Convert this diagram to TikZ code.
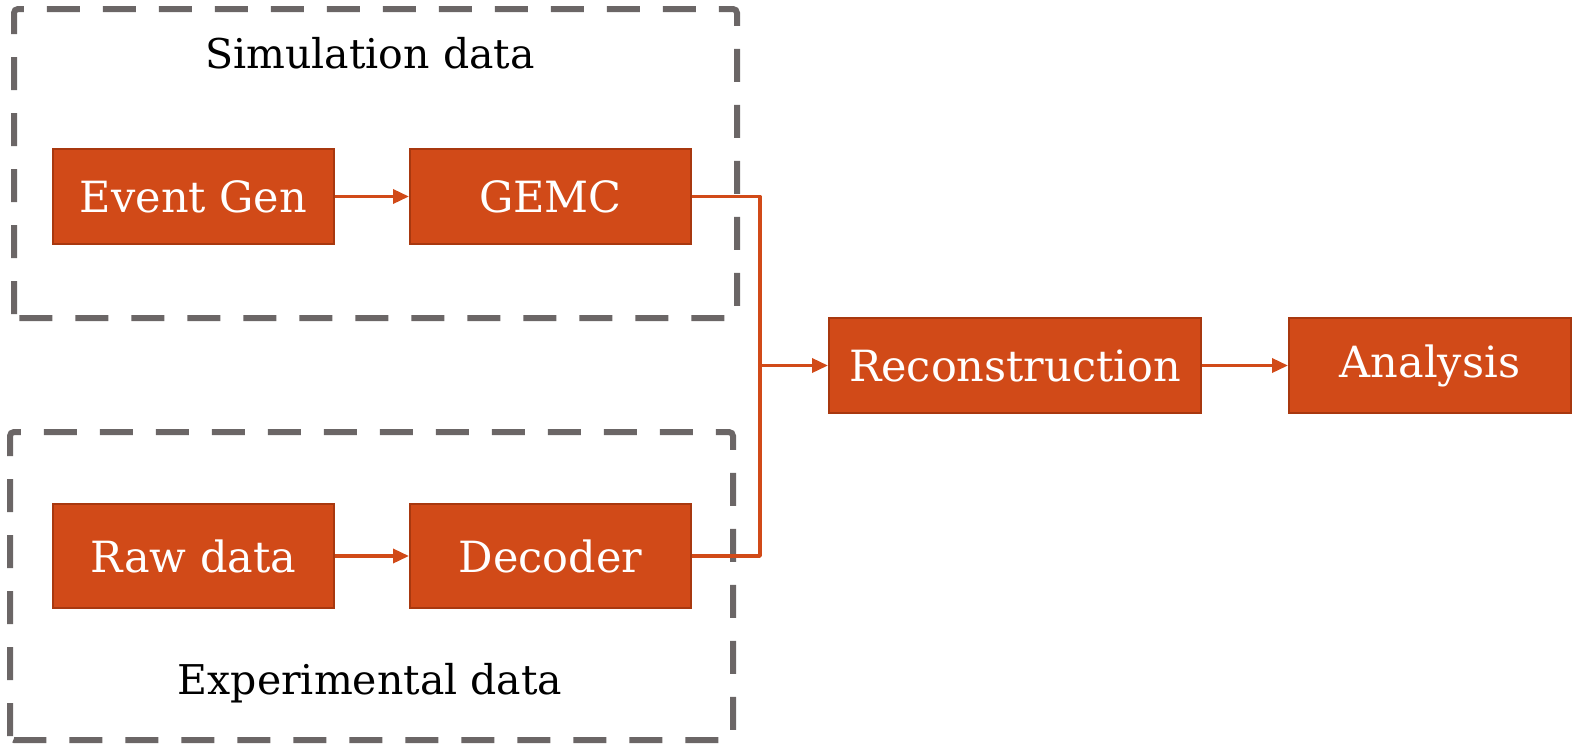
\documentclass[tikz,border=0pt]{standalone}
\usepackage{fontspec}
\setmainfont{DejaVu Serif}
\usetikzlibrary{arrows.meta}
\definecolor{boxfill}{HTML}{D14A18}
\definecolor{boxedge}{HTML}{A8380F}
\definecolor{dashgray}{HTML}{6B6666}
\begin{document}
\begin{tikzpicture}[x=1pt,y=-1pt,
  stepbox/.style={draw=boxedge,line width=2pt,fill=boxfill,text=white,
    font=\fontsize{43}{50}\selectfont,inner sep=0pt,anchor=north west},
  groupbox/.style={draw=dashgray,line width=6pt,dash pattern=on 33pt off 23pt,rounded corners=4pt},
  flow/.style={draw=boxfill,line width=3.5pt,-{Triangle[length=16pt,width=14pt]}},
  link/.style={draw=boxfill,line width=3.5pt},
  title/.style={font=\fontsize{41}{48}\selectfont,text=black}]
\useasboundingbox (0,0) rectangle (1574,745);
\clip (0,0) rectangle (1574,745);
% group frames
\draw[groupbox] (14,318) -- (14,9) -- (737,9) -- (737,318) -- cycle;
\draw[groupbox] (10,740) -- (10,432) -- (733,432) -- (733,740) -- cycle;
\node[title] (simt) at (370,53) {Simulation data};
\node[title] (expt) at (370,683) {Experimental data};
% boxes
\node[stepbox,minimum width=281pt,minimum height=95pt] (evg) at (52,148) {Event Gen};
\node[stepbox,minimum width=281pt,minimum height=95pt] (gemc) at (409,148) {GEMC};
\node[stepbox,minimum width=281pt,minimum height=104pt] (raw) at (52,503) {Raw data};
\node[stepbox,minimum width=281pt,minimum height=104pt] (dec) at (409,503) {Decoder};
\node[stepbox,minimum width=372pt,minimum height=95pt] (rec) at (828,317) {Reconstruction};
\node[stepbox,minimum width=282pt,minimum height=95pt] (ana) at (1288,317) {Analysis};
% connectors
\coordinate (jm) at (760,365);
\draw[flow] (evg.east) -- (gemc.west);
\draw[flow] (raw.east) -- (dec.west);
\draw[link,line join=round] (gemc.east) -- (gemc.east -| jm) -- (dec.east -| jm) -- (dec.east);
\draw[flow] (rec.west -| jm) -- (rec.west);
\draw[flow] (rec.east) -- (ana.west);
\end{tikzpicture}
\end{document}
